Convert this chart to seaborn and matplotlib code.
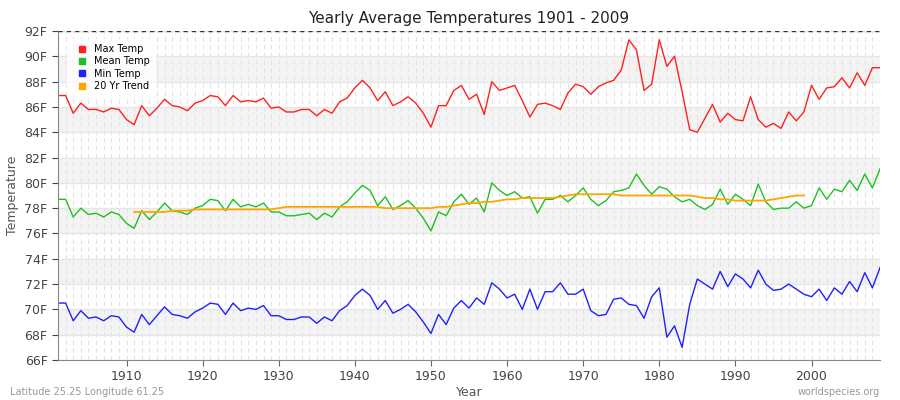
import numpy as np
import pandas as pd
import matplotlib
matplotlib.use("Agg")
import matplotlib.pyplot as plt
from matplotlib.lines import Line2D
import seaborn as sns

years = list(range(1901, 2010))
max_temp = [86.9, 86.9, 85.5, 86.3, 85.8, 85.8, 85.6, 85.9, 85.8, 85.0,
            84.6, 86.1, 85.3, 85.9, 86.6, 86.1, 86.0, 85.7, 86.3, 86.5,
            86.9, 86.8, 86.1, 86.9, 86.4, 86.5, 86.4, 86.7, 85.9, 86.0,
            85.6, 85.6, 85.8, 85.8, 85.3, 85.8, 85.5, 86.4, 86.7, 87.5,
            88.1, 87.5, 86.5, 87.2, 86.1, 86.4, 86.8, 86.3, 85.5, 84.4,
            86.1, 86.1, 87.3, 87.7, 86.6, 87.0, 85.4, 88.0, 87.3, 87.5,
            87.7, 86.5, 85.2, 86.2, 86.3, 86.1, 85.8, 87.1, 87.8, 87.6,
            87.0, 87.6, 87.9, 88.1, 88.9, 91.3, 90.5, 87.3, 87.8, 91.3,
            89.2, 90.0, 87.2, 84.2, 84.0, 85.1, 86.2, 84.8, 85.5, 85.0,
            84.9, 86.8, 85.0, 84.4, 84.7, 84.3, 85.6, 84.9, 85.6, 87.7,
            86.6, 87.5, 87.6, 88.3, 87.5, 88.7, 87.7, 89.1, 89.1]
mean_temp = [78.7, 78.7, 77.3, 78.0, 77.5, 77.6, 77.3, 77.7, 77.5, 76.8,
             76.4, 77.8, 77.1, 77.7, 78.4, 77.8, 77.7, 77.5, 78.0, 78.2,
             78.7, 78.6, 77.8, 78.7, 78.1, 78.3, 78.1, 78.4, 77.7, 77.7,
             77.4, 77.4, 77.5, 77.6, 77.1, 77.6, 77.3, 78.1, 78.5, 79.2,
             79.8, 79.4, 78.2, 78.9, 77.9, 78.2, 78.6, 78.0, 77.2, 76.2,
             77.7, 77.4, 78.5, 79.1, 78.3, 78.8, 77.7, 80.0, 79.4, 79.0,
             79.3, 78.8, 78.9, 77.6, 78.7, 78.7, 79.0, 78.5, 79.0, 79.6,
             78.7, 78.2, 78.6, 79.3, 79.4, 79.6, 80.7, 79.8, 79.1, 79.7,
             79.5, 78.9, 78.5, 78.7, 78.2, 77.9, 78.3, 79.5, 78.3, 79.1,
             78.7, 78.2, 79.9, 78.5, 77.9, 78.0, 78.0, 78.5, 78.0, 78.2,
             79.6, 78.7, 79.5, 79.3, 80.2, 79.4, 80.7, 79.6, 81.1]
min_temp = [70.5, 70.5, 69.1, 69.9, 69.3, 69.4, 69.1, 69.5, 69.4, 68.6,
            68.2, 69.6, 68.8, 69.5, 70.2, 69.6, 69.5, 69.3, 69.8, 70.1,
            70.5, 70.4, 69.6, 70.5, 69.9, 70.1, 70.0, 70.3, 69.5, 69.5,
            69.2, 69.2, 69.4, 69.4, 68.9, 69.4, 69.1, 69.9, 70.3, 71.1,
            71.6, 71.1, 70.0, 70.7, 69.7, 70.0, 70.4, 69.8, 69.0, 68.1,
            69.6, 68.8, 70.1, 70.7, 70.1, 70.9, 70.4, 72.1, 71.6, 70.9,
            71.2, 70.0, 71.6, 70.0, 71.4, 71.4, 72.1, 71.2, 71.2, 71.6,
            69.9, 69.5, 69.6, 70.8, 70.9, 70.4, 70.3, 69.3, 71.0, 71.7,
            67.8, 68.7, 67.0, 70.4, 72.4, 72.0, 71.6, 73.0, 71.8, 72.8,
            72.4, 71.7, 73.1, 72.0, 71.5, 71.6, 72.0, 71.6, 71.2, 71.0,
            71.6, 70.7, 71.7, 71.2, 72.2, 71.4, 72.9, 71.7, 73.3]
trend_years = list(range(1911, 2000))
trend = [77.7, 77.7, 77.7, 77.7, 77.7, 77.8, 77.8, 77.8, 77.9, 77.9,
         77.9, 77.9, 77.9, 77.9, 77.9, 77.9, 77.9, 77.9, 77.9, 78.0,
         78.1, 78.1, 78.1, 78.1, 78.1, 78.1, 78.1, 78.1, 78.1, 78.1,
         78.1, 78.1, 78.1, 78.0, 78.0, 78.0, 78.0, 78.0, 78.0, 78.0,
         78.1, 78.1, 78.2, 78.3, 78.4, 78.4, 78.5, 78.5, 78.6, 78.7,
         78.7, 78.8, 78.8, 78.8, 78.8, 78.8, 78.9, 79.0, 79.1, 79.1,
         79.1, 79.1, 79.1, 79.1, 79.0, 79.0, 79.0, 79.0, 79.0, 79.0,
         79.0, 79.0, 79.0, 79.0, 78.9, 78.8, 78.8, 78.7, 78.7, 78.6,
         78.6, 78.6, 78.6, 78.6, 78.7, 78.8, 78.9, 79.0, 79.0]
y_ticks = list(range(66, 93, 2))
x_ticks = [1910, 1920, 1930, 1940, 1950, 1960, 1970, 1980, 1990, 2000]

fig = plt.figure(figsize=(9, 4), dpi=100)
ax = fig.add_axes([58/900, 40/400, 822/900, 329/400])

# background bands
for lo in range(66, 92, 2):
    if (lo // 2) % 2 == 0:
        ax.axhspan(lo, lo + 2, color="#f3f3f3", zorder=0, lw=0)
for yr in range(1901, 2010):
    ax.axvline(yr, color="#e2e2e2", lw=0.8, ls=(0, (4, 3)), zorder=0.5)
for t in y_ticks:
    ax.axhline(t, color="#e6e6e6", lw=1, zorder=0.6)

c_max, c_mean, c_min, c_tr = "#ff2020", "#20c020", "#2020ff", "#ffa500"
sns.lineplot(x=years, y=max_temp, color=c_max, lw=1, ax=ax)
sns.lineplot(x=years, y=mean_temp, color=c_mean, lw=1, ax=ax)
sns.lineplot(x=years, y=min_temp, color=c_min, lw=1, ax=ax)
sns.lineplot(x=trend_years, y=trend, color=c_tr, lw=1.3, ax=ax)

ax.set_xlim(1901, 2009)
ax.set_ylim(66, 92)
ax.set_yticks(y_ticks)
ax.set_yticklabels([f"{t}F" for t in y_ticks])
ax.set_xticks(x_ticks)
ax.tick_params(colors="#444444", labelsize=9, length=4)
ax.tick_params(axis="x", colors="#666666", labelcolor="#444444")
for s in ["left", "bottom"]:
    ax.spines[s].set_color("#888888")
ax.spines["right"].set_visible(False)
ax.spines["top"].set_visible(False)
ax.axhline(92, color="#333333", lw=1, ls=(0, (3, 3)), zorder=3)

ax.set_xlabel("Year", color="#555555", fontsize=9, labelpad=2)
ax.set_ylabel("Temperature", color="#555555", fontsize=9)
ax.set_title("Yearly Average Temperatures 1901 - 2009", fontsize=11, color="#222222", pad=6)

handles = [Line2D([], [], marker="s", ls="", color=c, markersize=4)
           for c in [c_max, c_mean, c_min, c_tr]]
leg = ax.legend(handles, ["Max Temp", "Mean Temp", "Min Temp", "20 Yr Trend"],
                loc="upper left", fontsize=7, frameon=True, handletextpad=0.3,
                borderpad=0.5, labelspacing=0.25, bbox_to_anchor=(0.005, 0.99))
leg.get_frame().set_edgecolor("#ffffff")
leg.get_frame().set_facecolor("#ffffff")

fig.text(10/900, 1 - 392/400, "Latitude 25.25 Longitude 61.25", fontsize=7, color="#999999", va="center")
fig.text(880/900, 1 - 392/400, "worldspecies.org", fontsize=7, color="#999999", va="center", ha="right")

fig.savefig("out.png", dpi=100)
